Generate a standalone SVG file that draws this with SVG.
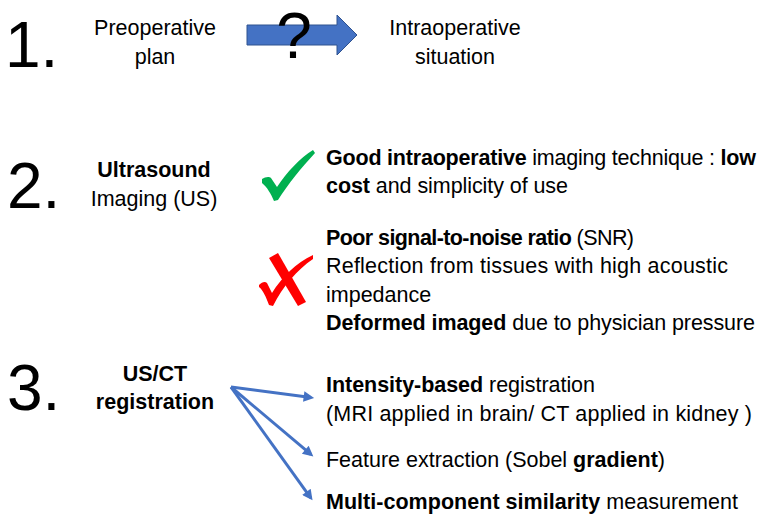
<svg xmlns="http://www.w3.org/2000/svg" width="769" height="517" viewBox="0 0 769 517">
<style>
.t{font-family:"Liberation Sans",Arial,sans-serif;font-size:21.5px;fill:#000}
.c{text-anchor:middle}
.b{font-weight:bold}
.num{font-family:"Liberation Sans",Arial,sans-serif;font-size:64px;fill:#000}
.conn{stroke:#4472C4;stroke-width:3;fill:none;marker-end:url(#ah)}
</style>
<defs>
<marker id="ah" viewBox="0 0 10 10" refX="7" refY="5" markerWidth="4.5" markerHeight="3.5" orient="auto">
<path d="M0,0 L10,5 L0,10 z" fill="#4472C4"/>
</marker>
</defs>
<rect width="769" height="517" fill="#fff"/>

<g id="n1-number"><text class="num" x="5" y="67">1.</text></g>
<g id="n1-preop"><text class="t c" x="155" y="35">Preoperative</text><text class="t c" x="155" y="64">plan</text></g>
<g id="n1-arrow">
<polygon points="247,25 337,25 337,15 357,35 337,55 337,45 247,45" fill="#4472C4" stroke="#2F528F" stroke-width="1"/>
<text class="num c" x="294" y="58">?</text>
</g>
<g id="n1-intraop"><text class="t c" x="455" y="35">Intraoperative</text><text class="t c" x="455" y="64">situation</text></g>

<g id="n2-number"><text class="num" x="7" y="208">2.</text></g>
<g id="n2-us"><text class="t c b" x="154" y="177">Ultrasound</text><text class="t c" x="154" y="206">Imaging (US)</text></g>
<g id="n2-check">
<path d="M262,179 C265,177 269,176 271,178 L277,187 C287,172 300,158 313,150 L315,153 C302,167 288,184 278,200 L274,201 C271,194 267,187 262,183 Z" fill="#00B050"/>
</g>
<g id="n2-pros">
<text class="t" x="326" y="165" textLength="430"><tspan class="b">Good intraoperative</tspan> imaging technique : <tspan class="b">low</tspan></text>
<text class="t" x="326" y="193" textLength="242"><tspan class="b">cost</tspan> and simplicity of use</text>
</g>
<g id="n2-cross">
<path d="M269,258 L278,253 L306,302 L298,306 Z" fill="#FF0000"/>
<path d="M259,285 C262,282 265,281 267,283 L272,293 C282,277 296,263 313,255 L313,259 C297,270 283,286 273,306 L269,305 C266,297 263,290 259,287 Z" fill="#FF0000"/>
</g>
<g id="n2-cons">
<text class="t" x="326" y="245" textLength="308"><tspan class="b">Poor signal-to-noise ratio</tspan> (SNR)</text>
<text class="t" x="326" y="273" textLength="402">Reflection from tissues with high acoustic</text>
<text class="t" x="326" y="302">impedance</text>
<text class="t" x="326" y="330" textLength="429"><tspan class="b">Deformed imaged</tspan> due to physician pressure</text>
</g>

<g id="n3-number"><text class="num" x="7" y="410">3.</text></g>
<g id="n3-reg"><text class="t c b" x="155" y="381">US/CT</text><text class="t c b" x="155" y="409">registration</text></g>
<g id="n3-intensity">
<text class="t" x="326" y="392" textLength="269"><tspan class="b">Intensity-based</tspan> registration</text>
<text class="t" x="326" y="421" textLength="426">(MRI applied in brain/ CT applied in kidney )</text>
</g>
<g id="n3-feature"><text class="t" x="326" y="467" textLength="339">Feature extraction (Sobel <tspan class="b">gradient</tspan>)</text></g>
<g id="n3-multi"><text class="t" x="326" y="509" textLength="412"><tspan class="b">Multi-component similarity</tspan> measurement</text></g>

<g id="connectors">
<line class="conn" x1="231" y1="387" x2="311" y2="397.5"/>
<line class="conn" x1="231" y1="387" x2="310.9" y2="454.4"/>
<line class="conn" x1="231" y1="387" x2="310.7" y2="497.8"/>
</g>
</svg>
